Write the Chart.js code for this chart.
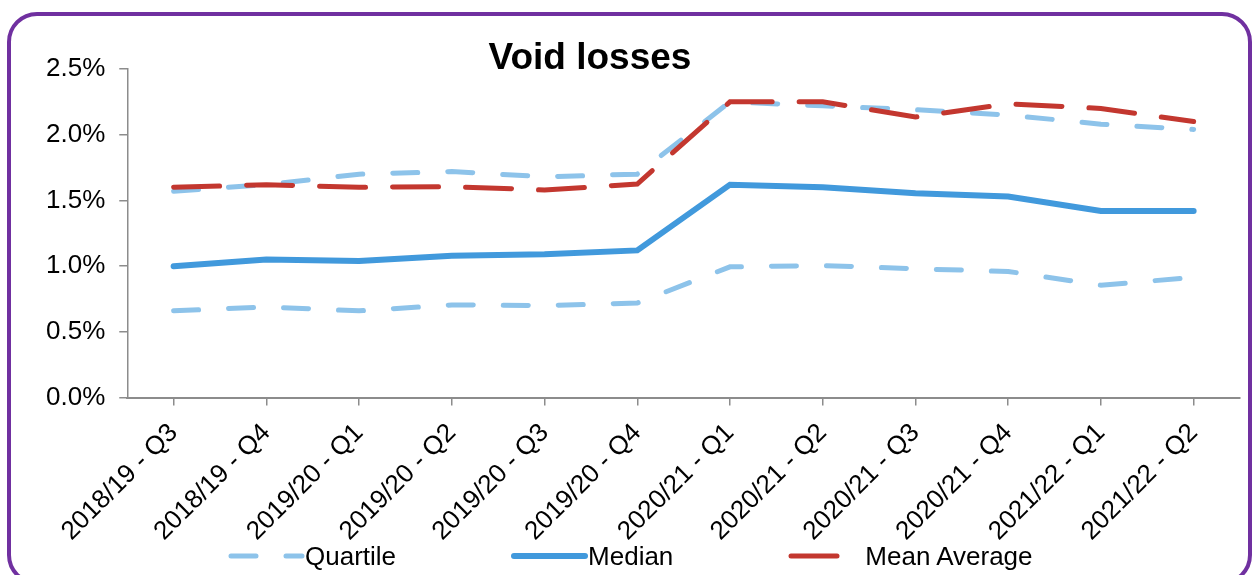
<!DOCTYPE html>
<html>
<head>
<meta charset="utf-8">
<title>Void losses</title>
<script src="https://cdn.jsdelivr.net/npm/chart.js"></script>
<style>
    html, body {
        margin: 0;
        padding: 0;
        background: #ffffff;
        width: 1256px;
        height: 575px;
        overflow: hidden;
        font-family: "Liberation Sans", Arial, sans-serif;
    }
    .frame {
        position: absolute;
        left: 7px;
        top: 12px;
        width: 1245px;
        height: 573px;
        box-sizing: border-box;
        border: 4px solid #7030A0;
        border-radius: 30px;
        pointer-events: none;
    }
    #chart {
        position: absolute;
        left: 0;
        top: 0;
    }
    .chart-title {
        position: absolute;
        left: 390px;
        width: 400px;
        top: 38px;
        text-align: center;
        font-size: 37px;
        line-height: 37px;
        font-weight: bold;
        color: #000000;
    }
    .legend {
        position: absolute;
        left: 228px;
        top: 541px;
        display: flex;
        gap: 115px;
        align-items: center;
    }
    .legend-item {
        display: flex;
        align-items: center;
        font-size: 26px;
        line-height: 30px;
        color: #000000;
    }
</style>
</head>
<body>
<canvas id="chart" width="1256" height="575"></canvas>
<div class="chart-title">Void losses</div>
<div class="legend" id="legend"></div>
<div class="frame"></div>

<script>
// Données (en %)
const categories = ['2018/19 - Q3', '2018/19 - Q4', '2019/20 - Q1', '2019/20 - Q2', '2019/20 - Q3', '2019/20 - Q4',
                    '2020/21 - Q1', '2020/21 - Q2', '2020/21 - Q3', '2020/21 - Q4', '2021/22 - Q1', '2021/22 - Q2'];
const upperQuartile = [1.57, 1.62, 1.70, 1.72, 1.68, 1.70, 2.25, 2.22, 2.19, 2.15, 2.08, 2.04];
const lowerQuartile = [0.66, 0.69, 0.66, 0.705, 0.70, 0.72, 0.995, 1.005, 0.98, 0.96, 0.855, 0.915];
const median = [1.00, 1.05, 1.04, 1.08, 1.09, 1.12, 1.62, 1.60, 1.555, 1.53, 1.42, 1.42];
const meanAverage = [1.60, 1.62, 1.60, 1.605, 1.58, 1.625, 2.25, 2.25, 2.135, 2.235, 2.20, 2.10];
const yTicks = [0, 0.5, 1.0, 1.5, 2.0, 2.5];

// Couleurs
const quartileColor = '#8DC3EA';
const medianColor = '#4199DC';
const meanColor = '#C3372F';
const axisColor = '#8C8C8C';
const labelFont = { family: '"Liberation Sans", Arial, sans-serif', size: 26 };

const ctx = document.getElementById('chart').getContext('2d');

const chart = new Chart(ctx, {
    type: 'line',
    data: {
        labels: categories,
        datasets: [
            {
                label: 'Mean Average',
                data: meanAverage,
                borderColor: meanColor,
                borderWidth: 5,
                borderDash: [46, 27],
                borderCapStyle: 'round',
                order: 0
            },
            {
                label: 'Median',
                data: median,
                borderColor: medianColor,
                borderWidth: 6,
                borderCapStyle: 'round',
                order: 1
            },
            {
                label: 'Quartile',
                data: upperQuartile,
                borderColor: quartileColor,
                borderWidth: 5,
                borderDash: [25, 30],
                borderCapStyle: 'round',
                order: 2
            },
            {
                label: 'Lower quartile',
                data: lowerQuartile,
                borderColor: quartileColor,
                borderWidth: 5,
                borderDash: [25, 30],
                borderCapStyle: 'round',
                order: 3,
                noLegend: true
            }
        ]
    },
    options: {
        responsive: false,
        animation: false,
        layout: {
            padding: { left: 32, right: 16, top: 69, bottom: 16 }
        },
        elements: {
            point: { radius: 0, hoverRadius: 0 },
            line: { tension: 0, fill: false }
        },
        plugins: {
            legend: { display: false },
            title: { display: false },
            tooltip: { enabled: false }
        },
        scales: {
            x: {
                offset: true,
                grid: {
                    display: true,
                    drawOnChartArea: false,
                    drawTicks: true,
                    tickLength: 8,
                    color: axisColor,
                    lineWidth: 1.5
                },
                border: { display: true, color: axisColor, width: 2 },
                ticks: {
                    color: '#000000',
                    font: labelFont,
                    minRotation: 45,
                    maxRotation: 45,
                    autoSkip: false,
                    padding: 12
                }
            },
            y: {
                min: 0,
                max: 2.5,
                afterBuildTicks: (axis) => {
                    axis.ticks = yTicks.map(v => ({ value: v }));
                },
                grid: {
                    display: true,
                    drawOnChartArea: false,
                    drawTicks: true,
                    tickLength: 8,
                    color: axisColor,
                    lineWidth: 1.5
                },
                border: { display: true, color: axisColor, width: 1.5 },
                ticks: {
                    color: '#000000',
                    font: labelFont,
                    padding: 14,
                    callback: (value) => value.toFixed(1) + '%'
                }
            }
        }
    }
});

// Légende HTML (l'ordre d'Excel : Quartile, Median, Mean Average)
function buildLegend() {
    const legend = document.getElementById('legend');
    const order = ['Quartile', 'Median', 'Mean Average'];
    order.forEach(name => {
        const ds = chart.data.datasets.find(d => d.label === name && !d.noLegend);
        if (!ds) return;
        const item = document.createElement('div');
        item.className = 'legend-item';

        const sample = document.createElement('canvas');
        sample.width = 77;
        sample.height = 12;
        const sctx = sample.getContext('2d');
        sctx.strokeStyle = ds.borderColor;
        sctx.lineWidth = ds.borderWidth;
        sctx.lineCap = 'round';
        sctx.setLineDash(ds.borderDash || []);
        sctx.beginPath();
        sctx.moveTo(3, 6);
        sctx.lineTo(74, 6);
        sctx.stroke();

        const text = document.createElement('span');
        text.textContent = name;

        item.appendChild(sample);
        item.appendChild(text);
        legend.appendChild(item);
    });
}

buildLegend();
</script>
</body>
</html>
